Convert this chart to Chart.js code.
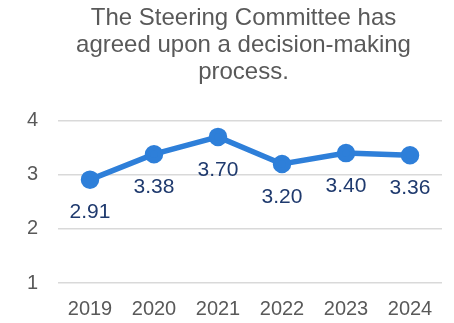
<!DOCTYPE html>
<html>
<head>
<meta charset="utf-8">
<script src="https://cdn.jsdelivr.net/npm/chart.js@4/dist/chart.umd.min.js"></script>
<style>
  html, body { margin: 0; padding: 0; background: #fff; }
  #wrap { width: 454px; height: 323px; }
</style>
</head>
<body>
<div id="wrap"><canvas id="myChart"></canvas></div>
<script>
const years = ['2019', '2020', '2021', '2022', '2023', '2024'];
const scores = [2.91, 3.38, 3.70, 3.20, 3.40, 3.36];
const yTicks = [1, 2, 3, 4];
const titleLines = ['The Steering Committee has', 'agreed upon a decision-making', 'process.'];

const FONT = "'Liberation Sans', Arial, sans-serif";

// writes each value under its point
const valueLabels = {
  id: 'valueLabels',
  afterDatasetsDraw(chart) {
    const ctx = chart.ctx;
    const meta = chart.getDatasetMeta(0);
    ctx.save();
    ctx.font = '21px ' + FONT;
    ctx.fillStyle = '#1f3a6e';
    ctx.textAlign = 'center';
    ctx.textBaseline = 'middle';
    meta.data.forEach((pt, i) => {
      ctx.fillText(scores[i].toFixed(2), pt.x, pt.y + 33);
    });
    ctx.restore();
  }
};

const data = {
  labels: years,
  datasets: [{
    data: scores,
    borderColor: '#2e7fd9',
    backgroundColor: '#2e7fd9',
    borderWidth: 5.5,
    pointRadius: 6.5,
    pointHoverRadius: 6.5,
    tension: 0
  }]
};

const config = {
  type: 'line',
  data: data,
  options: {
    responsive: true,
    maintainAspectRatio: false,
    animation: false,
    layout: { padding: { left: 36, right: 3, top: 0, bottom: 0 } },
    plugins: {
      legend: { display: false },
      tooltip: { enabled: false },
      title: {
        display: true,
        text: titleLines,
        color: '#595959',
        font: { family: FONT, size: 24, weight: 'normal', lineHeight: 1.12 },
        padding: { top: 5, bottom: 35 }
      }
    },
    scales: {
      x: {
        offset: true,
        afterFit: s => { s.height = 40; },
        grid: { display: false, drawTicks: false },
        border: { display: false },
        ticks: {
          color: '#595959',
          font: { family: FONT, size: 20 },
          padding: 14,
          maxRotation: 0
        }
      },
      y: {
        min: 1,
        max: 4,
        afterFit: s => { s.width = 22; },
        afterBuildTicks: s => { s.ticks = yTicks.map(v => ({ value: v })); },
        grid: { color: '#d9d9d9', lineWidth: 1.5, drawTicks: false },
        border: { display: false },
        ticks: {
          // mirrored so the digits can sit left of the narrow axis box
          mirror: true,
          crossAlign: 'far',
          color: '#595959',
          font: { family: FONT, size: 20 },
          padding: -31
        }
      }
    }
  },
  plugins: [valueLabels]
};

const myChart = new Chart(document.getElementById('myChart'), config);
</script>
</body>
</html>
